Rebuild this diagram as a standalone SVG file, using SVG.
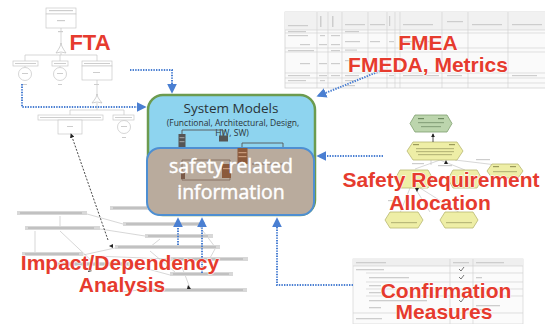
<svg xmlns="http://www.w3.org/2000/svg" width="545" height="324" viewBox="0 0 545 324">
  <style>
    .lbl { font-family: "Liberation Sans", Arial, sans-serif; font-weight: bold; fill: #e63b2e; stroke: #ffffff; stroke-width: 1.2; paint-order: stroke; text-anchor: middle; }
    .thin { stroke: #c6c6c6; stroke-width: 0.7; fill: none; }
    .greek { fill: #cdcdcd; }
    .bar { fill: #d8d8d8; }
    .barT { fill: #a9a9a9; }
    .grid { stroke: #d2d2d2; stroke-width: 0.7; fill: none; }
    .conn { stroke: #4a7fd2; stroke-width: 2; stroke-dasharray: 1.4 1.2; fill: none; }
    .hexY { fill: #eeeea6; stroke: #b8b872; stroke-width: 0.8; }
    .hexG { fill: #bcd5ad; stroke: #7f9f6f; stroke-width: 0.8; }
    .ftaBox { fill: #ffffff; stroke: #c8c8c8; stroke-width: 0.7; }
    .dark { fill: #555; }
    .model { font-family: "Open Sans", "Liberation Sans", sans-serif; fill: #2a3338; text-anchor: middle; }
    .info { font-family: "Open Sans", "Liberation Sans", sans-serif; font-size: 19.5px; fill: #ffffff; stroke: #ffffff; stroke-width: 0.45; text-anchor: middle; }
  </style>
  <defs>
    <marker id="arr" viewBox="0 0 6 6" refX="5" refY="3" markerWidth="5" markerHeight="5" orient="auto">
      <path d="M0,0 L6,3 L0,6 z" fill="#4a7fd2"/>
    </marker>
    <marker id="arrK" viewBox="0 0 6 6" refX="5" refY="3" markerWidth="5" markerHeight="5" orient="auto">
      <path d="M0,0 L6,3 L0,6 z" fill="#222"/>
    </marker>
  </defs>
  <rect width="545" height="324" fill="#ffffff"/>

  <!-- Fault tree sketch -->
  <g id="fta">
    <rect class="ftaBox" x="46" y="8" width="30" height="6"/>
    <rect class="greek" x="49" y="10" width="24" height="1.2"/>
    <rect class="ftaBox" x="46" y="14" width="30" height="14"/>
    <rect class="greek" x="57" y="20" width="8" height="1.2"/>
    <path class="thin" d="M61,28 V45"/>
    <rect class="greek" x="58" y="31" width="5" height="1.2"/>
    <path d="M56,53 Q61,46 61,43 Q61,46 66,53 Q61,51 56,53 z" fill="#fff" stroke="#bdbdbd" stroke-width="0.7"/>
    <path class="thin" d="M61,53 V55 M25,55 H97 M25,55 V61 M60,55 V61 M97,55 V61"/>
    <rect class="ftaBox" x="13" y="61" width="25" height="5"/>
    <rect class="ftaBox" x="52" y="61" width="16" height="5"/>
    <rect class="ftaBox" x="82" y="61" width="30" height="5"/>
    <rect class="greek" x="15" y="63" width="21" height="1"/>
    <rect class="greek" x="54" y="63" width="12" height="1"/>
    <rect class="greek" x="84" y="63" width="26" height="1"/>
    <path class="thin" d="M25,66 V67 M60,66 V67"/>
    <circle cx="25" cy="74" r="6.5" fill="#fff" stroke="#c4c4c4" stroke-width="0.7"/>
    <circle cx="60" cy="74" r="6.5" fill="#fff" stroke="#c4c4c4" stroke-width="0.7"/>
    <rect class="greek" x="22" y="73" width="6" height="1"/>
    <rect class="greek" x="57" y="73" width="6" height="1"/>
    <rect class="greek" x="23" y="84" width="4" height="1"/>
    <rect class="greek" x="58" y="84" width="4" height="1"/>
    <rect class="ftaBox" x="82" y="66" width="30" height="14"/>
    <rect class="greek" x="93" y="72" width="7" height="1"/>
    <path class="thin" d="M97,80 V96"/>
    <rect class="greek" x="94" y="84" width="5" height="1"/>
    <path d="M92,103 Q97,97 97,94 Q97,97 102,103 Q97,101 92,103 z" fill="#fff" stroke="#bdbdbd" stroke-width="0.7"/>
    <path class="thin" d="M97,103 V110 M70,110 H124 M70,110 V115 M124,110 V115"/>
    <rect class="ftaBox" x="38" y="115" width="65" height="5"/>
    <rect class="ftaBox" x="113" y="115" width="21" height="5"/>
    <rect class="greek" x="40" y="117" width="61" height="1"/>
    <rect class="greek" x="115" y="117" width="17" height="1"/>
    <rect class="ftaBox" x="58" y="120" width="24" height="14"/>
    <circle cx="124" cy="127" r="6.5" fill="#fff" stroke="#c4c4c4" stroke-width="0.7"/>
    <rect class="greek" x="67" y="126" width="6" height="1"/>
    <rect class="greek" x="121" y="126" width="6" height="1"/>
    <rect class="greek" x="122" y="137" width="4" height="1"/>
  </g>

  <!-- Impact / dependency graph sketch -->
  <g id="impact">
    <path class="thin" d="M60,216 V227 M35,231 V253 M87,214 L123,224 M100,229 L145,236 M160,239 L150,247 M83,255 L115,248 M95,256 L170,259 M133,265 L170,275 M60,231 L95,264 M200,227 L215,247 M180,262 L190,288 M215,249 L210,258 M150,251 L175,272 M120,292 L140,290"/>
    <rect class="bar" x="17" y="211" width="70" height="4"/>
    <rect class="bar" x="25" y="226" width="75" height="4"/>
    <rect class="bar" x="110" y="206" width="40" height="4"/>
    <rect class="bar" x="123" y="222" width="82" height="4"/>
    <rect class="bar" x="145" y="234" width="68" height="4"/>
    <rect class="bar" x="115" y="245" width="105" height="4"/>
    <rect class="bar" x="22" y="252" width="61" height="4"/>
    <rect class="bar" x="170" y="257" width="78" height="4"/>
    <rect class="bar" x="55" y="262" width="78" height="4"/>
    <rect class="bar" x="170" y="272" width="63" height="4"/>
    <rect class="bar" x="140" y="288" width="107" height="4"/>
    <rect class="barT" x="20" y="212.5" width="62" height="1"/>
    <rect class="barT" x="28" y="227.5" width="66" height="1"/>
    <rect class="barT" x="113" y="207.5" width="34" height="1"/>
    <rect class="barT" x="126" y="223.5" width="74" height="1"/>
    <rect class="barT" x="148" y="235.5" width="60" height="1"/>
    <rect class="barT" x="118" y="246.5" width="98" height="1"/>
    <rect class="barT" x="25" y="253.5" width="54" height="1"/>
    <rect class="barT" x="173" y="258.5" width="70" height="1"/>
    <rect class="barT" x="58" y="263.5" width="70" height="1"/>
    <rect class="barT" x="173" y="273.5" width="56" height="1"/>
    <rect class="barT" x="143" y="289.5" width="100" height="1"/>
    <path d="M108,240 L71,134" stroke="#333" stroke-width="0.9" stroke-dasharray="2 1.5" fill="none" marker-end="url(#arrK)"/>
    <path d="M109,246 l4,-2 l0,4 z" fill="#222"/>
    <path d="M89,268 l3,3 l-4,1 z" fill="#222"/>
    <path d="M188,285 l3,4 l-4,0 z" fill="#222"/>
  </g>

  <!-- FMEA table sketch -->
  <g id="fmea">
    <rect x="285" y="12" width="262" height="76" fill="#fafafa" stroke="#d2d2d2" stroke-width="0.8"/>
    <rect x="285" y="12" width="262" height="18" fill="#f1f1f1"/>
    <path class="grid" d="M285,30 H547 M285,33 H547 M285,48 H547 M285,52 H547 M285,73 H547 M285,78 H547 M285,83 H547 M317,12 V88 M328,12 V88 M342,12 V88 M368,12 V88 M387,12 V88 M395,12 V88 M400,12 V88 M442,12 V88 M468,12 V88 M508,12 V88"/>
    <rect class="greek" x="288" y="25" width="20" height="1.2"/>
    <rect class="greek" x="320" y="16" width="1.5" height="11"/>
    <rect class="greek" x="332" y="16" width="1.5" height="11"/>
    <rect class="greek" x="345" y="24" width="20" height="1.2"/>
    <rect class="greek" x="370" y="24" width="15" height="1.2"/>
    <rect class="greek" x="389" y="16" width="1.2" height="10"/>
    <rect class="greek" x="403" y="24" width="30" height="1.2"/>
    <rect class="greek" x="447" y="21" width="16" height="1.2"/>
    <rect class="greek" x="472" y="24" width="30" height="1.2"/>
    <rect class="greek" x="512" y="24" width="30" height="1.2"/>
    <rect class="greek" x="288" y="31" width="18" height="1.2"/>
    <rect class="greek" x="345" y="31" width="14" height="1.2"/>
    <rect class="greek" x="288" y="35" width="20" height="1.2"/>
    <rect class="greek" x="320" y="35" width="5" height="1.2"/>
    <rect class="greek" x="331" y="35" width="9" height="1.2"/>
    <rect class="greek" x="300" y="44" width="10" height="1.2"/>
    <rect class="greek" x="319" y="44" width="8" height="1.2"/>
    <rect class="greek" x="331" y="44" width="9" height="1.2"/>
    <rect class="greek" x="345" y="41" width="15" height="1.2"/>
    <rect class="greek" x="370" y="41" width="10" height="1.2"/>
    <rect class="greek" x="389" y="41" width="5" height="1.2"/>
    <rect class="greek" x="403" y="41" width="30" height="1.2"/>
    <rect class="greek" x="345" y="49.5" width="12" height="1.2"/>
    <rect class="greek" x="288" y="50" width="26" height="1.2"/>
    <rect class="greek" x="331" y="50" width="9" height="1.2"/>
    <rect class="greek" x="300" y="63" width="10" height="1.2"/>
    <rect class="greek" x="319" y="63" width="8" height="1.2"/>
    <rect class="greek" x="331" y="63" width="9" height="1.2"/>
    <rect class="greek" x="345" y="60" width="15" height="1.2"/>
    <rect class="greek" x="288" y="75" width="22" height="1.2"/>
    <rect class="greek" x="319" y="75" width="8" height="1.2"/>
    <rect class="greek" x="331" y="75" width="9" height="1.2"/>
    <rect class="greek" x="345" y="75" width="14" height="1.2"/>
    <rect class="greek" x="389" y="75" width="5" height="1.2"/>
    <rect class="greek" x="403" y="75" width="36" height="1.2"/>
    <rect class="greek" x="447" y="75" width="15" height="1.2"/>
    <rect class="greek" x="512" y="75" width="25" height="1.2"/>
    <rect class="greek" x="288" y="80" width="18" height="1.2"/>
    <rect class="greek" x="320" y="80" width="5" height="1.2"/>
    <rect class="greek" x="345" y="80" width="10" height="1.2"/>
    <rect class="greek" x="345" y="85" width="10" height="1.2"/>
  </g>

  <!-- Safety requirement hierarchy sketch -->
  <g id="safety-req">
    <path class="thin" d="M431,160 V165 M415,169 L440,160 M440,160 L465,170 M455,160 L505,166 M410,188 L400,213 M415,188 L430,212 M420,188 L460,213"/>
    <rect class="greek" x="412" y="163" width="12" height="1.2"/>
    <rect class="greek" x="438" y="165" width="14" height="1.2"/>
    <rect class="greek" x="476" y="159" width="14" height="1.2"/>
    <rect class="greek" x="388" y="200" width="12" height="1.2"/>
    <polygon class="hexG" points="410,123.5 415,115 447,115 452,123.5 447,132 415,132"/>
    <rect x="418" y="118" width="6" height="1.2" fill="#6d8a61"/>
    <rect x="438" y="118" width="6" height="1.2" fill="#6d8a61"/>
    <rect x="418" y="122" width="26" height="1.2" fill="#8aa57e"/>
    <rect x="421" y="126" width="20" height="1.2" fill="#8aa57e"/>
    <polygon class="hexY" points="407,151 413,142 457,142 463,151 457,160 413,160"/>
    <rect x="413" y="144" width="6" height="1.2" fill="#9a9a5a"/>
    <rect x="449" y="144" width="6" height="1.2" fill="#9a9a5a"/>
    <rect x="416" y="148" width="38" height="1.2" fill="#b9b97a"/>
    <rect x="416" y="151" width="38" height="1.2" fill="#b9b97a"/>
    <rect x="418" y="154" width="34" height="1.2" fill="#b9b97a"/>
    <path d="M433,142 V134" stroke="#222" stroke-width="0.8" marker-end="url(#arrK)"/>
    <polygon class="hexY" points="395,179 400,170 428,170 433,179 428,188 400,188"/>
    <polygon class="hexY" points="448,179 453,170 477,170 482,179 477,188 453,188"/>
    <polygon class="hexY" points="487,171 492,164 518,164 523,171 518,178 492,178"/>
    <rect x="493" y="166" width="6" height="1.2" fill="#9a9a5a"/>
    <rect x="510" y="166" width="6" height="1.2" fill="#9a9a5a"/>
    <rect x="493" y="171" width="24" height="1.2" fill="#b9b97a"/>
    <polygon class="hexY" points="385,220 390,212 418,212 423,220 418,228 390,228"/>
    <polygon class="hexY" points="440,220 445,212 473,212 478,220 473,228 445,228"/>
    <rect x="391" y="222" width="26" height="1.2" fill="#b9b97a"/>
    <rect x="446" y="222" width="26" height="1.2" fill="#b9b97a"/>
    <path d="M446,160 l-2,4 l4,0 z" fill="#222"/>
    <path d="M417,192 l-2,-4 l4,0 z" fill="#222"/>
  </g>

  <!-- Confirmation measures table sketch -->
  <g id="confirmation">
    <rect x="353" y="259" width="170" height="65" fill="#fbfbfb" stroke="#d4d4d4" stroke-width="0.7"/>
    <rect x="353" y="259" width="170" height="7" fill="#efefef"/>
    <path class="grid" d="M353,266 H523 M366,273 H523 M366,282 H523 M366,289 H523 M366,296 H523 M353,313 H523 M450,259 V324 M473,259 V324"/>
    <rect class="greek" x="356" y="262" width="30" height="1.3"/>
    <rect class="greek" x="453" y="262" width="16" height="1.3"/>
    <rect class="greek" x="476" y="262" width="28" height="1.3"/>
    <rect class="greek" x="356" y="269" width="28" height="1.3"/>
    <rect class="greek" x="369" y="277" width="40" height="1.3"/>
    <rect class="greek" x="369" y="285" width="12" height="1.3"/>
    <rect class="greek" x="369" y="292" width="12" height="1.3"/>
    <rect class="greek" x="369" y="300" width="58" height="1.3"/>
    <rect class="greek" x="369" y="307" width="12" height="1.3"/>
    <rect class="greek" x="476" y="277" width="6" height="1.3"/>
    <rect class="greek" x="476" y="305" width="24" height="1.3"/>
    <rect class="greek" x="476" y="309" width="12" height="1.3"/>
    <rect class="greek" x="356" y="318" width="26" height="1.3"/>
    <path d="M459,269 l2,2 l3,-4 M459,277 l2,2 l3,-4 M459,300 l2,2 l3,-4 M459,318 l2,2 l3,-4" stroke="#555" stroke-width="0.8" fill="none"/>
  </g>

  <!-- Central system model block -->
  <g id="system-models">
    <rect x="148" y="95" width="167" height="120" rx="15" fill="#8ed4ef" stroke="#6c9b4f" stroke-width="2.5"/>
    <text class="model" x="231" y="112.5" font-size="13.5">System Models</text>
    <text class="model" x="233" y="125.5" font-size="8.5">(Functional, Architectural, Design,</text>
    <text class="model" x="232" y="135.5" font-size="8.5">HW, SW)</text>
    <!-- block diagram fragments -->
    <path d="M182,135 V130 H223 V136 M242,148 V143 H283 V148 M283,153 V164" stroke="#555" stroke-width="0.9" fill="none"/>
    <rect x="178.5" y="134" width="7" height="13" class="dark"/>
    <rect x="179.5" y="137" width="5" height="1.2" fill="#999"/>
    <rect x="179.5" y="141" width="5" height="1.2" fill="#999"/>
    <rect x="219" y="135.5" width="9" height="6" class="dark"/>
    <rect x="279" y="147" width="7" height="6" fill="#5a5a5a"/>
  </g>

  <g id="safety-info">
    <rect x="147" y="148" width="167" height="67" rx="13" fill="#b9ab9d" stroke="#4e8fd2" stroke-width="2"/>
    <path d="M182,160 H230 V180 H182 Z M252,164 H283" stroke="#7c6455" stroke-width="0.8" fill="none"/>
    <rect x="237.5" y="148" width="10" height="16" fill="#8b5a3c"/>
    <rect x="238.5" y="152" width="8" height="1.2" fill="#c99a7a"/>
    <rect x="238.5" y="156" width="8" height="1.2" fill="#c99a7a"/>
    <rect x="222" y="164" width="9" height="14" fill="#8b5a3c"/>
    <rect x="223" y="168" width="7" height="1.2" fill="#c99a7a"/>
    <rect x="181" y="171" width="4" height="8" fill="#7a5a48"/>
    <text class="info" x="231" y="172.5">safety related</text>
    <text class="info" x="231" y="198.5">information</text>
  </g>

  <!-- Connectors -->
  <g id="connectors">
    <path class="conn" d="M22,84 V107 H145" marker-end="url(#arr)"/>
    <path class="conn" d="M130,70 H172 V92" marker-end="url(#arr)"/>
    <path class="conn" d="M380,71 L318,96" marker-end="url(#arr)"/>
    <path class="conn" d="M383,156 H318" marker-end="url(#arr)"/>
    <path class="conn" d="M353,285 H277 V219" marker-end="url(#arr)"/>
    <path class="conn" d="M178,245 V219" marker-end="url(#arr)" stroke-width="1.2"/>
    <path class="conn" d="M202,273 V219" marker-end="url(#arr)" stroke-width="1.2"/>
  </g>

  <!-- Area captions -->
  <g id="captions">
    <text class="lbl" x="90" y="50" font-size="22">FTA</text>
    <text class="lbl" x="428" y="50" font-size="21">FMEA</text>
    <text class="lbl" x="428" y="72" font-size="21">FMEDA, Metrics</text>
    <text class="lbl" x="441" y="187" font-size="21">Safety Requirement</text>
    <text class="lbl" x="440" y="210" font-size="21">Allocation</text>
    <text class="lbl" x="120" y="270" font-size="21">Impact/Dependency</text>
    <text class="lbl" x="122" y="292" font-size="21">Analysis</text>
    <text class="lbl" x="446" y="298" font-size="21">Confirmation</text>
    <text class="lbl" x="444" y="319" font-size="21">Measures</text>
  </g>
</svg>
